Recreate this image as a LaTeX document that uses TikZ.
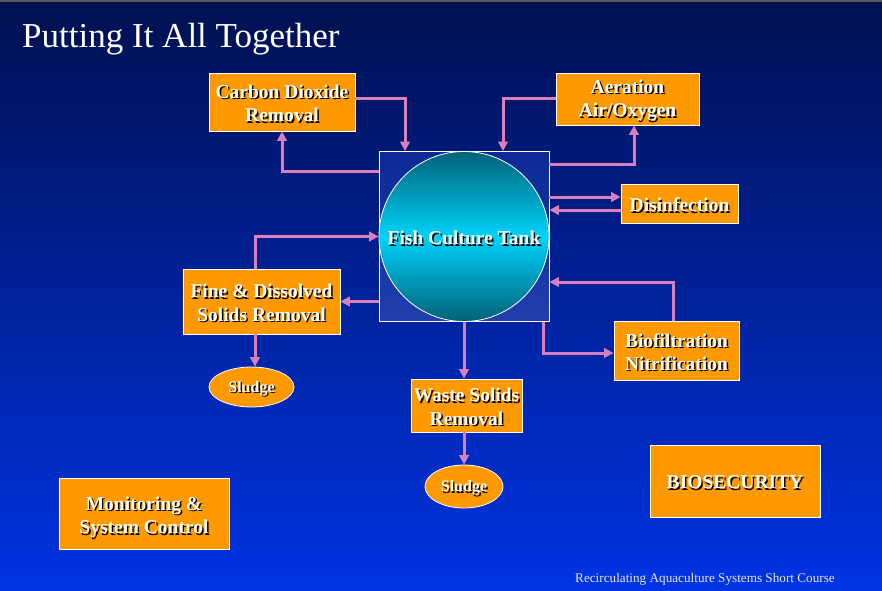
\documentclass[tikz,border=0pt]{standalone}
\usepackage{fontspec}
\setmainfont{Liberation Serif}
\usetikzlibrary{arrows.meta,shapes.geometric,calc}
\definecolor{bgtop}{RGB}{0,16,80}
\definecolor{bgbot}{RGB}{0,52,228}
\definecolor{boxorange}{RGB}{255,153,0}
\definecolor{flowpink}{RGB}{214,128,190}
\definecolor{tankdark}{RGB}{0,98,120}
\definecolor{tanklight}{RGB}{0,210,250}
\definecolor{sqtop}{RGB}{12,42,150}
\definecolor{sqbot}{RGB}{32,62,172}
\definecolor{foottext}{RGB}{232,232,245}
\tikzset{
  obox/.style={draw=white, line width=0.8pt, fill=boxorange, inner sep=0pt},
  sludgebox/.style={ellipse, draw=white, line width=0.8pt, fill=boxorange, inner sep=0pt},
  lbl/.style={text=white, font=\bfseries\fontsize{19.5}{23.5}\selectfont, align=center, inner sep=0pt},
  slbl/.style={text=white, font=\bfseries\fontsize{16}{19}\selectfont, align=center, inner sep=0pt},
  flow/.style={draw=flowpink, line width=3pt, -{Triangle[length=9.5pt,width=9.5pt]}},
}
\newcommand\shlabel[4]{%
  \node[#4, text=black] (#1s) at ([shift={(1.4pt,-2.9pt)}]#2) {#3};
  \node[#4] (#1) at ([yshift=-1.5pt]#2) {#3};}
\begin{document}
\begin{tikzpicture}[x=1pt,y=-1pt]
\shade[top color=bgtop,bottom color=bgbot] (0,0) rectangle (882,590);
\useasboundingbox (0,0) rectangle (882,590);
\fill[black!65] (0,0) rectangle (882,1.5);

\node[anchor=base west, text=white, inner sep=0pt, font=\fontsize{35}{40}\selectfont] (title) at (22,47) {Putting It All Together};

% tank
\node[draw=white, line width=0.8pt, minimum size=170pt, inner sep=0pt, top color=sqtop, bottom color=sqbot] (tank) at (464,236.5) {};
\node[circle, draw=white, line width=0.8pt, minimum size=170pt, inner sep=0pt, top color=tankdark, bottom color=tankdark, middle color=tanklight] (tankc) at (464,236.5) {};
\shlabel{tanklbl}{tank.center}{Fish Culture Tank}{lbl}

% boxes
\node[obox, minimum width=146pt, minimum height=58pt] (co2) at (282,102) {};
\shlabel{co2lbl}{co2.center}{Carbon Dioxide\\Removal}{lbl}
\node[obox, minimum width=143pt, minimum height=52pt] (aer) at (627.5,99) {};
\shlabel{aerlbl}{aer.center}{Aeration\\Air/Oxygen}{lbl}
\node[obox, minimum width=117pt, minimum height=39pt] (dis) at (679.5,203.5) {};
\shlabel{dislbl}{dis.center}{Disinfection}{lbl}
\node[obox, minimum width=157pt, minimum height=65pt] (fine) at (261.5,301.5) {};
\shlabel{finelbl}{fine.center}{Fine \& Dissolved\\Solids Removal}{lbl}
\node[obox, minimum width=125pt, minimum height=59pt] (bio) at (676.5,350.5) {};
\shlabel{biolbl}{bio.center}{Biofiltration\\Nitrification}{lbl}
\node[obox, minimum width=111pt, minimum height=53pt] (waste) at (466.5,405.5) {};
\shlabel{wastelbl}{waste.center}{Waste Solids\\Removal}{lbl}
\node[obox, minimum width=170pt, minimum height=72pt] (bios) at (735,481) {};
\shlabel{bioslbl}{bios.center}{BIOSECURITY}{lbl}
\node[obox, minimum width=170pt, minimum height=71pt] (mon) at (144,513.5) {};
\coordinate (monc) at ([yshift=-2.5pt]mon.center);
\shlabel{monlbl}{monc}{Monitoring \&\\System Control}{lbl}

\node[sludgebox, minimum width=85pt, minimum height=40pt] (sl1) at (251.5,387) {};
\shlabel{sl1lbl}{sl1.center}{Sludge}{slbl}
\node[sludgebox, minimum width=78pt, minimum height=43pt] (sl2) at (464,486.5) {};
\shlabel{sl2lbl}{sl2.center}{Sludge}{slbl}

% connectors
\coordinate (c1) at ([yshift=4pt]co2.east);
\coordinate (c1e) at ([xshift=-59pt]tank.north);
\draw[flow] (c1) -| (c1e);
\coordinate (c2) at ([yshift=65.5pt]tank.west);
\draw[flow] (c2) -| (co2.south);
\coordinate (c3) at ([yshift=1pt]aer.west);
\coordinate (c3e) at ([xshift=39pt]tank.north);
\draw[flow] (c3) -| (c3e);
\coordinate (c4) at ([yshift=72.5pt]tank.east);
\coordinate (c4e) at ([xshift=6.5pt]aer.south);
\draw[flow] (c4) -| (c4e);
\coordinate (c5) at ([yshift=39.5pt]tank.east);
\draw[flow] (c5) -- (c5 -| dis.west);
\coordinate (c6) at ([yshift=-6.5pt]dis.west);
\draw[flow] (c6) -- (c6 -| tank.east);
\coordinate (c7) at ([xshift=-3.5pt]bio.north);
\coordinate (c7e) at ([yshift=-45.5pt]tank.east);
\draw[flow] (c7) |- (c7e);
\coordinate (c8) at ([xshift=79pt]tank.south);
\coordinate (c8e) at ([yshift=-2.5pt]bio.west);
\draw[flow] (c8) |- (c8e);
\draw[flow] (tank.south) -- (tank.south |- waste.north);
\draw[flow] (sl2.north |- waste.south) -- (sl2.north);
\coordinate (c11) at ([xshift=-6.5pt]fine.north);
\draw[flow] (c11) |- (tank.west);
\draw[flow] (tank.west |- fine.east) -- (fine.east);
\draw[flow] (c11 |- fine.south) -- (c11 |- sl1.north);

\node[anchor=base west, text=foottext, inner sep=0pt, font=\fontsize{13.2}{15}\selectfont] (foot) at (575,582) {Recirculating Aquaculture Systems Short Course};
\end{tikzpicture}
\end{document}
